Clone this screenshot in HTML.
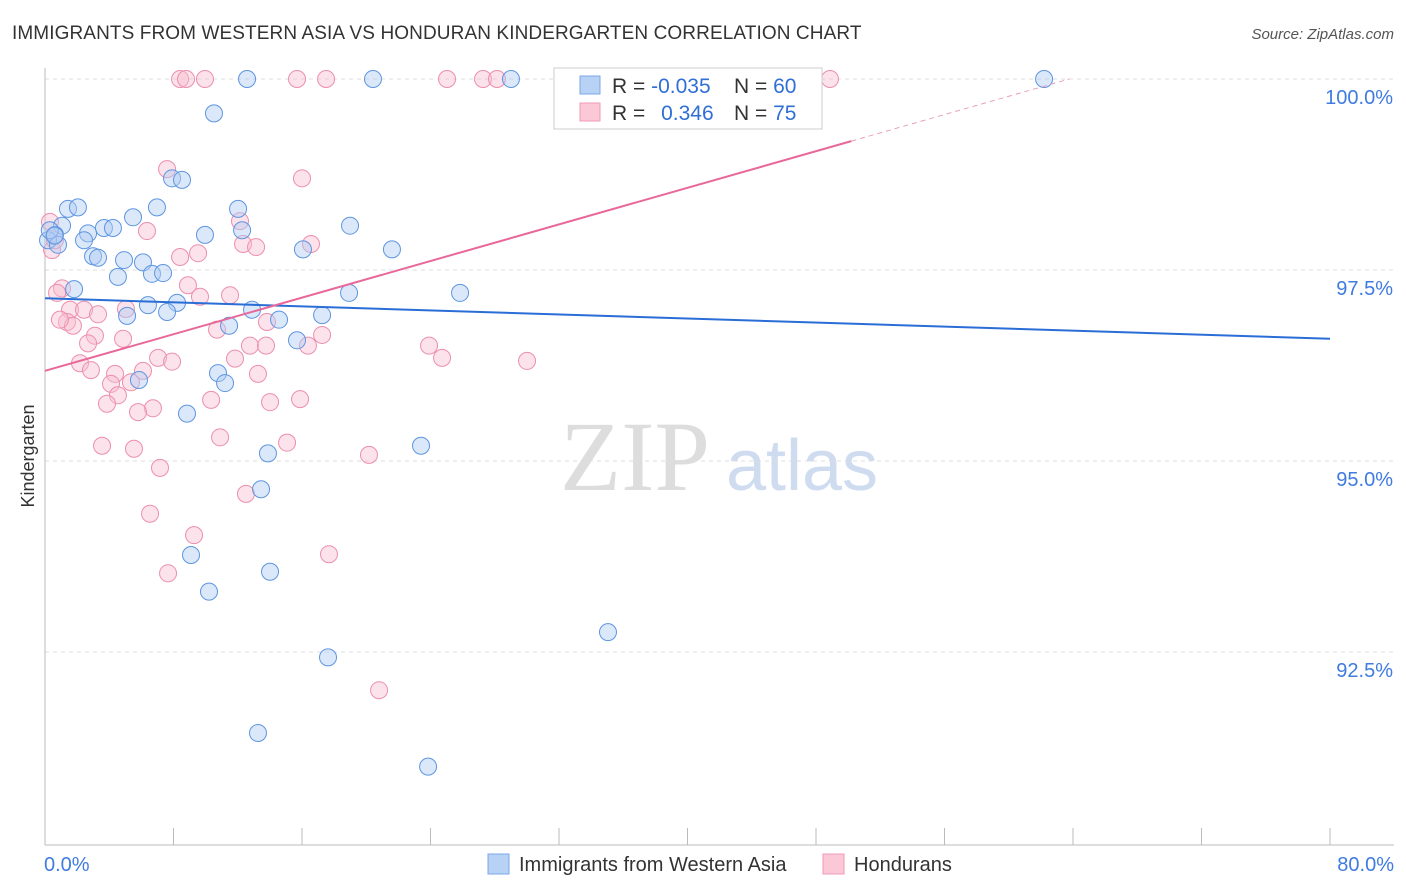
<!DOCTYPE html>
<html><head><meta charset="utf-8">
<style>
body{margin:0;background:#fff;font-family:"Liberation Sans",sans-serif;}
#wrap{position:relative;width:1406px;height:892px;overflow:hidden;}
</style></head>
<body>
<div id="wrap">
<svg id="svg" width="1406" height="892" xmlns="http://www.w3.org/2000/svg">
<text x="12" y="39" font-size="19" fill="#333" letter-spacing="0.1">IMMIGRANTS FROM WESTERN ASIA VS HONDURAN KINDERGARTEN CORRELATION CHART</text>
<text x="1394" y="39" font-size="15" fill="#555" font-style="italic" text-anchor="end">Source: ZipAtlas.com</text>
<text x="34" y="456" font-size="18" fill="#333" transform="rotate(-90 34 456)" text-anchor="middle">Kindergarten</text>
<text x="635" y="490" font-size="100" fill="#ddd" font-family="Liberation Serif" text-anchor="middle">ZIP</text>
<text x="802" y="490" font-size="72" fill="#cfdcf0" text-anchor="middle">atlas</text>
<g id="grid"></g><g id="marks"></g>
<g>
<rect x="554" y="68" width="268" height="61" fill="#fff" stroke="#ccc"/>
<rect x="580" y="76" width="20" height="18" fill="#b8d2f5" stroke="#7aa7e8"/>
<rect x="580" y="103" width="20" height="18" fill="#fbc8d8" stroke="#f09ab5"/>
<text x="612" y="93" font-size="21" fill="#333">R = <tspan fill="#2f6fd6">-0.035</tspan></text>
<text x="734" y="93" font-size="21" fill="#333">N = <tspan fill="#2f6fd6">60</tspan></text>
<text x="612" y="120" font-size="21" fill="#333">R = <tspan fill="#2f6fd6" dx="10">0.346</tspan></text>
<text x="734" y="120" font-size="21" fill="#333">N = <tspan fill="#2f6fd6">75</tspan></text>
</g>
<g>
<rect x="488" y="854" width="21" height="20" fill="#b8d2f5" stroke="#7aa7e8"/>
<text x="519" y="871" font-size="20" fill="#333">Immigrants from Western Asia</text>
<rect x="823" y="854" width="21" height="20" fill="#fbc8d8" stroke="#f09ab5"/>
<text x="854" y="871" font-size="20" fill="#333">Hondurans</text>
</g>
</svg>
</div>
<script>
const xTicks=[0,8,16,24,32,40,48,56,64,72,80];
const yTicks=[100,97.5,95,92.5];
const yTickLabels=["100.0%","97.5%","95.0%","92.5%"];
const xEndLabels=["0.0%","80.0%"];
const blueX=[12.58,20.42,29.01,62.20,10.52,7.91,8.53,1.43,2.05,6.97,12.02,5.48,18.99,1.06,3.67,4.23,12.27,9.96,2.68,2.43,0.62,0.19,0.81,16.06,21.60,2.99,3.30,4.92,6.10,4.54,6.66,7.35,1.81,18.93,25.84,6.41,8.22,5.11,7.60,12.89,17.25,14.57,11.46,15.69,10.77,5.85,11.21,8.84,23.41,13.88,13.45,9.09,14.01,10.21,35.05,17.62,13.26,23.85,0.3,0.6];
const blueY=[100,100,100,100,99.55,98.70,98.68,98.30,98.32,98.32,98.30,98.19,98.08,98.08,98.05,98.05,98.02,97.96,97.98,97.89,97.96,97.89,97.83,97.77,97.77,97.68,97.66,97.63,97.60,97.41,97.45,97.46,97.25,97.20,97.20,97.04,97.07,96.90,96.95,96.98,96.91,96.85,96.77,96.58,96.15,96.06,96.02,95.62,95.20,95.10,94.63,93.77,93.55,93.29,92.76,92.43,91.44,91.00,98.02,97.95];
const pinkX=[8.41,8.78,9.96,15.69,17.50,25.03,27.27,28.14,42.15,48.87,7.60,16.00,12.14,0.31,6.35,12.33,13.14,16.56,8.41,9.53,0.44,8.90,11.52,1.06,0.75,9.65,1.56,2.43,3.30,5.04,1.37,1.74,13.82,10.71,17.25,3.11,4.86,2.68,12.76,13.76,16.37,23.91,24.72,30.01,7.04,11.83,7.91,2.18,2.86,4.36,6.10,13.26,4.11,5.35,4.54,10.34,14.01,15.88,3.86,6.72,5.79,10.90,3.55,15.07,5.54,20.17,7.16,12.51,6.54,9.28,7.66,17.68,20.80,0.62,0.93];
const pinkY=[100,100,100,100,100,100,100,100,100,100,98.82,98.70,98.14,98.13,98.01,97.84,97.80,97.84,97.67,97.72,97.76,97.30,97.17,97.26,97.20,97.15,96.98,96.98,96.92,96.99,96.82,96.77,96.82,96.72,96.65,96.64,96.60,96.54,96.51,96.51,96.51,96.51,96.35,96.31,96.35,96.34,96.30,96.28,96.19,96.14,96.18,96.14,96.01,96.03,95.86,95.80,95.77,95.81,95.75,95.69,95.64,95.31,95.20,95.24,95.16,95.08,94.91,94.57,94.31,94.03,93.53,93.78,92.00,97.89,96.85];
const blueTrend=[97.13,96.60];
const pinkTrend=[96.18,0.0599];
const NS="http://www.w3.org/2000/svg";
const X=v=>45+v/80*1285, Y=v=>79+(100-v)/2.5*191;
function mk(t,a,p){const e=document.createElementNS(NS,t);for(const k in a)e.setAttribute(k,a[k]);p.appendChild(e);return e;}
const grid=document.getElementById('grid'), marks=document.getElementById('marks');
yTicks.forEach((t,i)=>{
 const l=mk('line',{x1:45,x2:1394,y1:Y(t),y2:Y(t),stroke:'#ddd','stroke-dasharray':'4,4'},grid);
 
 
 const tx=mk('text',{x:1393,y:Y(t)+25,'font-size':20,fill:'#3f7be0','text-anchor':'end'},grid);
 tx.textContent=yTickLabels[i];
 
 
});
const ax=mk('line',{x1:45,x2:45,y1:68,y2:845,stroke:'#bbb'},grid);


const bx=mk('line',{x1:45,x2:1394,y1:845,y2:845,stroke:'#bbb'},grid);


xTicks.forEach(t=>{
 const l=mk('line',{x1:X(t),x2:X(t),y1:828,y2:845,stroke:'#bbb'},grid);
 
 
});
[[0,'start',44],[80,'end',1394]].forEach((d,i)=>{
 const tx=mk('text',{x:d[2],y:871,'font-size':20,fill:'#3f7be0','text-anchor':d[1]},grid);
 tx.textContent=xEndLabels[i];
 
 
});
function dots(xs,ys,fill,stroke,name){
 xs.forEach((x,i)=>{
  const c=mk('circle',{cx:X(x),cy:Y(ys[i]),r:8.5,fill:fill,'fill-opacity':0.45,stroke:stroke,'stroke-width':1},marks);
  
  
 });
}
dots(pinkX,pinkY,'#f8bfd1','#ec8fae','point-hondurans');
dots(blueX,blueY,'#b0cdf3','#5e95e0','point-western-asia');
const bl=mk('line',{x1:X(0),y1:Y(blueTrend[0]),x2:X(80),y2:Y(blueTrend[1]),stroke:'#2a6dd6','stroke-width':2},marks);


const pEnd=50.2, pDash=(100-pinkTrend[0])/pinkTrend[1];
const pl=mk('line',{x1:X(0),y1:Y(pinkTrend[0]),x2:X(pEnd),y2:Y(pinkTrend[0]+pinkTrend[1]*pEnd),stroke:'#e8689a','stroke-width':2},marks);


const pd=mk('line',{x1:X(pEnd),y1:Y(pinkTrend[0]+pinkTrend[1]*pEnd),x2:X(pDash),y2:Y(100),stroke:'#e8a0bb','stroke-width':1,'stroke-dasharray':'5,4'},marks);


</script>
</body></html>
